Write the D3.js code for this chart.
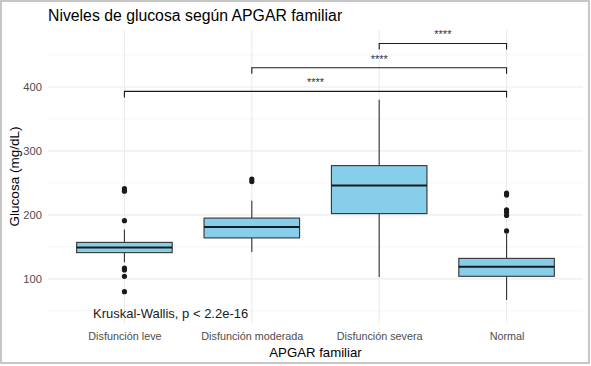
<!DOCTYPE html>
<html lang="es">
<head>
<meta charset="UTF-8">
<title>Niveles de glucosa</title>
<style>
  body { margin: 0; background: #fff; }
  text { font-family: "Liberation Sans", Arial, sans-serif; }
</style>
</head>
<body>
<div id="chart"></div>
<script src="https://cdn.jsdelivr.net/npm/d3@7"></script>
<script>
// datos
let categories = ['Disfunción leve', 'Disfunción moderada', 'Disfunción severa', 'Normal']
let whiskerLow = [126, 142, 103, 67]
let q1 = [141, 164, 202, 104]
let medians = [149, 181, 246, 119]
let q3 = [157, 195, 277, 132]
let whiskerHigh = [177, 222, 380, 171]
let outliers = [
  [241, 237, 191, 117, 114, 104, 80],
  [256, 252],
  [],
  [234, 231, 208, 204, 199, 175]
]
let yTicks = [100, 200, 300, 400]
let comparisons = [
  { from: 0, to: 3, y: 393, label: '****' },
  { from: 1, to: 3, y: 430, label: '****' },
  { from: 2, to: 3, y: 468, label: '****' }
]

let width = 591
let height = 366
let pLeft = 48, pRight = 583, pTop = 30, pBottom = 323

let svg = d3.select('#chart').append('svg').attr('width', width).attr('height', height)

// marco gris
svg.append('rect').attr('x', 1).attr('y', 1).attr('width', 588).attr('height', 362)
  .attr('fill', '#fff').attr('stroke', '#b4b4b4').attr('stroke-width', 1.5)

let x = d3.scalePoint().domain(categories).range([pLeft, pRight]).padding(0.6)
let y = d3.scaleLinear().domain([31, 489]).range([pBottom, pTop])
let step = x.step()
let boxW = step * 0.75

// rejilla menor
let minor = [50, 150, 250, 350, 450]
svg.append('g').selectAll('line').data(minor).join('line')
  .attr('x1', pLeft).attr('x2', pRight)
  .attr('y1', d => y(d)).attr('y2', d => y(d))
  .attr('stroke', '#f2f2f2').attr('stroke-width', 0.8)
// rejilla mayor
svg.append('g').selectAll('line').data(yTicks).join('line')
  .attr('x1', pLeft).attr('x2', pRight)
  .attr('y1', d => y(d)).attr('y2', d => y(d))
  .attr('stroke', '#ebebeb').attr('stroke-width', 1.1)
svg.append('g').selectAll('line').data(categories).join('line')
  .attr('x1', d => x(d)).attr('x2', d => x(d))
  .attr('y1', pTop).attr('y2', pBottom)
  .attr('stroke', '#ebebeb').attr('stroke-width', 1.1)

// eje y
let yAxis = d3.axisLeft(y).tickValues(yTicks).tickSize(0).tickPadding(6)
let gy = svg.append('g').attr('transform', 'translate(' + pLeft + ',0)').call(yAxis)
gy.select('.domain').remove()
gy.selectAll('text').attr('fill', '#4d4d4d').style('font-size', '11.2px')

// eje x
let xAxis = d3.axisBottom(x).tickSize(0).tickPadding(9)
let gx = svg.append('g').attr('transform', 'translate(0,' + pBottom + ')').call(xAxis)
gx.select('.domain').remove()
gx.selectAll('text').attr('fill', '#4d4d4d').style('font-size', '10.8px')

// cajas
categories.forEach((c, i) => {
  let g = svg.append('g')
  let cx = x(c)
  g.append('line').attr('x1', cx).attr('x2', cx)
    .attr('y1', y(whiskerHigh[i])).attr('y2', y(q3[i]))
    .attr('stroke', '#333').attr('stroke-width', 1.1)
  g.append('line').attr('x1', cx).attr('x2', cx)
    .attr('y1', y(q1[i])).attr('y2', y(whiskerLow[i]))
    .attr('stroke', '#333').attr('stroke-width', 1.1)
  g.append('rect').attr('x', cx - boxW / 2).attr('width', boxW)
    .attr('y', y(q3[i])).attr('height', y(q1[i]) - y(q3[i]))
    .attr('fill', '#87ceeb').attr('stroke', '#333').attr('stroke-width', 1.1)
  g.append('line').attr('x1', cx - boxW / 2).attr('x2', cx + boxW / 2)
    .attr('y1', y(medians[i])).attr('y2', y(medians[i]))
    .attr('stroke', '#1a1a1a').attr('stroke-width', 2)
  g.selectAll('circle').data(outliers[i]).join('circle')
    .attr('cx', cx).attr('cy', d => y(d)).attr('r', 2.6)
    .attr('fill', '#1a1a1a')
})

// comparaciones
comparisons.forEach(cmp => {
  let x1 = x(categories[cmp.from]), x2 = x(categories[cmp.to])
  let yy = y(cmp.y)
  let tip = 6
  svg.append('path')
    .attr('d', 'M' + x1 + ',' + (yy + tip) + 'V' + yy + 'H' + x2 + 'V' + (yy + tip))
    .attr('fill', 'none').attr('stroke', '#1a1a1a').attr('stroke-width', 1.1)
  svg.append('text').attr('x', (x1 + x2) / 2).attr('y', yy - 5)
    .attr('text-anchor', 'middle').style('font-size', '11px').attr('fill', '#333')
    .text(cmp.label)
})

// Kruskal-Wallis
svg.append('text').attr('x', 93).attr('y', y(46)).attr('dy', '0.35em')
  .style('font-size', '13px').attr('fill', '#1a1a1a')
  .text('Kruskal-Wallis, p < 2.2e-16')

// titulos
svg.append('text').attr('x', 48).attr('y', 21).style('font-size', '15.8px').attr('fill', '#000')
  .text('Niveles de glucosa según APGAR familiar')
svg.append('text').attr('x', (pLeft + pRight) / 2).attr('y', 357).attr('text-anchor', 'middle')
  .style('font-size', '13.2px').attr('fill', '#000').text('APGAR familiar')
svg.append('text').attr('transform', 'translate(19,' + ((pTop + pBottom) / 2) + ') rotate(-90)')
  .attr('text-anchor', 'middle').style('font-size', '13.5px').attr('fill', '#000')
  .text('Glucosa (mg/dL)')
</script>
</body>
</html>
